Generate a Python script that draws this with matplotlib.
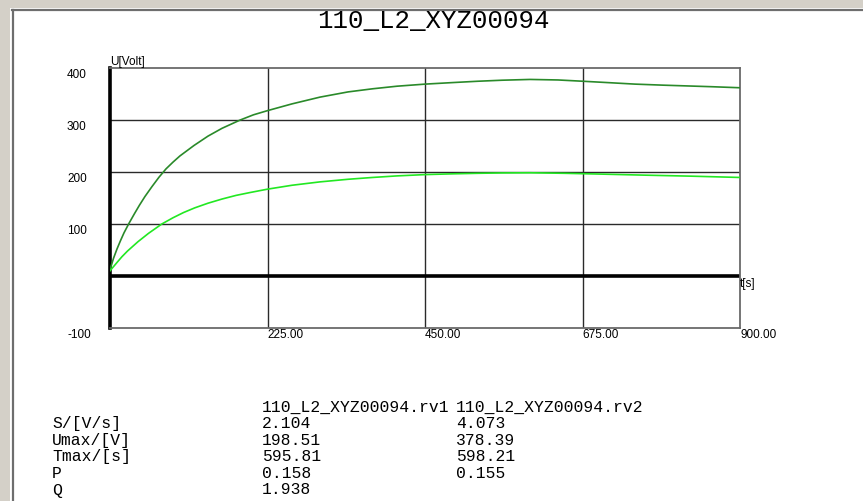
import matplotlib
matplotlib.use("Agg")
import matplotlib.pyplot as plt
from matplotlib.patches import Rectangle
from matplotlib.lines import Line2D

# curve data (t in s, U in V)
t_rv1 = [0, 10, 17, 25, 40, 55, 74, 90, 105, 121, 140, 160, 180, 200, 225, 260, 300,
         340, 375, 410, 450, 490, 525, 560, 600, 650, 700, 762, 830, 900]
u_rv1 = [10, 26, 37, 48, 66, 82, 100, 112, 122, 131, 140, 148, 155, 160.5, 167, 174.5, 181,
         186, 189.5, 192.5, 195, 196.5, 197.5, 198.2, 198.5, 197.5, 196, 194, 192, 189.5]

t_rv2 = [0, 5, 10, 15, 20, 27, 35, 42, 50, 60, 70, 80, 90, 100, 120, 140, 160, 186, 205,
         225, 260, 300, 340, 375, 410, 450, 490, 525, 560, 600, 640, 676, 710, 750, 790,
         825, 860, 900]
u_rv2 = [12, 34, 52, 68, 83, 101, 120, 136, 153, 172, 190, 206, 219, 231, 251, 269, 284, 300, 310,
         318, 331, 344, 354, 360, 365, 369, 372, 374.5, 376.5, 378, 377, 374.5, 372, 369, 367,
         365.5, 364, 362]

title = "110_L2_XYZ00094"
y_labels = [400, 300, 200, 100, -100]
x_labels = [225, 450, 675, 900]

table_header = ["", "110_L2_XYZ00094.rv1", "110_L2_XYZ00094.rv2"]
table_rows = [
    ["S/[V/s]", "2.104", "4.073"],
    ["Umax/[V]", "198.51", "378.39"],
    ["Tmax/[s]", "595.81", "598.21"],
    ["P", "0.158", "0.155"],
    ["Q", "1.938", ""],
]

W, H = 863, 501
fig = plt.figure(figsize=(W / 100, H / 100), dpi=100)
fig.patch.set_facecolor("white")


def fx(px):
    return px / W


def fy(py):
    return 1 - py / H


# window frame (gray strip + dark border)
fig.patches.append(Rectangle((0, fy(8)), 1, 8 / H, transform=fig.transFigure,
                             facecolor="#d4d0c8", edgecolor="none", zorder=0))
fig.patches.append(Rectangle((0, 0), fx(10), 1, transform=fig.transFigure,
                             facecolor="#d4d0c8", edgecolor="none", zorder=0))
fig.lines.append(Line2D([fx(12.5), fx(12.5)], [0, fy(9.5)], transform=fig.transFigure,
                        color="#6e6e6e", lw=1.6))
fig.lines.append(Line2D([fx(12), 1], [fy(10), fy(10)], transform=fig.transFigure,
                        color="#6e6e6e", lw=1.6))

# plot area
left, right, top, bottom = 110, 740, 68, 328
ax = fig.add_axes([fx(left), fy(bottom), fx(right - left), (bottom - top) / H])
ax.set_xlim(0, 900)
ax.set_ylim(-100, 400)

ax.plot(t_rv2, u_rv2, color="#2a8a2a", lw=1.2, zorder=3)
ax.plot(t_rv1, u_rv1, color="#22e822", lw=1.2, zorder=3)

ax.set_xticks([225, 450, 675])
ax.set_yticks([100, 200, 300])
ax.grid(True, color="#2a2a2a", lw=1.0)
ax.tick_params(length=0, labelleft=False, labelbottom=False)
ax.axhline(0, color="black", lw=2.6, zorder=2)

for side in ["top", "right", "bottom"]:
    ax.spines[side].set_color("#6a6a6a")
    ax.spines[side].set_linewidth(1.3)
ax.spines["left"].set_color("black")
ax.spines["left"].set_linewidth(2.6)

lab_font = dict(family="Liberation Sans", fontsize=8.5, color="black")

for v in y_labels:
    ax.annotate(str(v), xy=(0, v), xycoords=("axes fraction", "data"),
                xytext=(-43 * 0.72, -7 * 0.72), textcoords="offset points",
                ha="left", va="center", **lab_font)
for v in x_labels:
    ax.annotate(f"{v:.2f}", xy=(v, 0), xycoords=("data", "axes fraction"),
                xytext=(0, -7 * 0.72), textcoords="offset points",
                ha="left", va="center", **lab_font)

fig.text(fx(110), fy(62), "U[Volt]", ha="left", va="center", **lab_font)
fig.text(fx(740), fy(284), "t[s]", ha="left", va="center", **lab_font)

fig.text(fx(433), fy(21), title, ha="center", va="center",
         family="Liberation Mono", fontsize=18.5, color="black")

mono = dict(family="Liberation Mono", fontsize=11.8, color="black")
col_x = [52, 262, 456]
row_y = [407 + 16.6 * i for i in range(len(table_rows) + 1)]
for j, txt in enumerate(table_header):
    fig.text(fx(col_x[j]), fy(row_y[0]), txt, ha="left", va="center", **mono)
for i, row in enumerate(table_rows):
    for j, txt in enumerate(row):
        fig.text(fx(col_x[j]), fy(row_y[i + 1]), txt, ha="left", va="center", **mono)

fig.savefig("out.png", dpi=100)
